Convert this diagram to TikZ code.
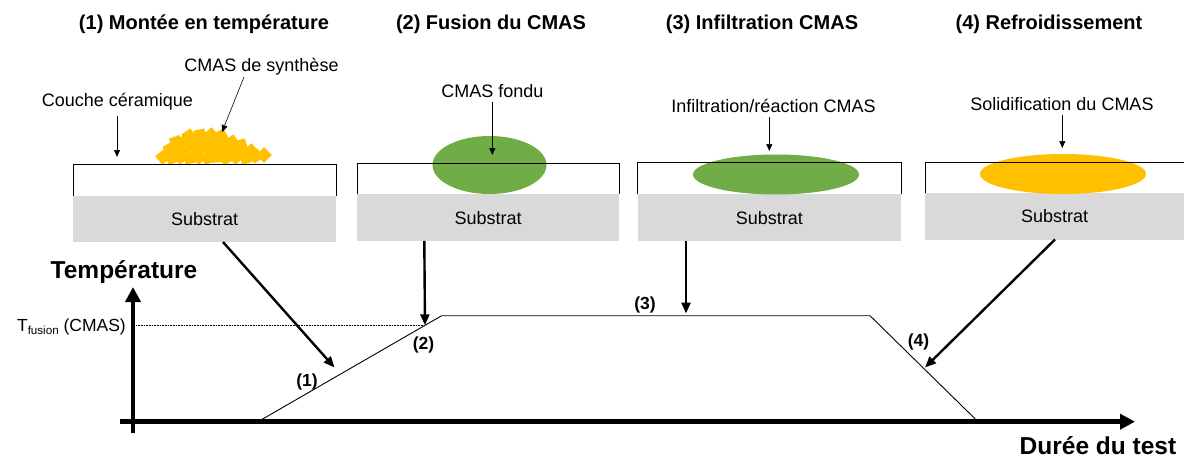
\documentclass[tikz,border=0pt]{standalone}
\usepackage{fontspec}
\setmainfont{Liberation Sans}
\usetikzlibrary{arrows.meta}
\definecolor{cmasgreen}{RGB}{112,173,71}
\definecolor{cmasorange}{RGB}{255,192,0}
\definecolor{substratgrey}{RGB}{217,217,217}
\begin{document}
\begin{tikzpicture}[x=1pt,y=-1pt,
  title/.style={font=\fontsize{20}{24}\selectfont\bfseries, inner sep=0pt},
  lbl/.style={font=\fontsize{18}{22}\selectfont, inner sep=0pt},
  axlbl/.style={font=\fontsize{24.5}{28}\selectfont\bfseries, inner sep=0pt},
  phase/.style={font=\fontsize{17.5}{20}\selectfont\bfseries, inner sep=0pt},
  layer/.style={draw=black, line width=1pt},
  subst/.style={fill=substratgrey, anchor=north west, inner sep=0pt,
    font=\fontsize{18}{22}\selectfont},
  pointer/.style={-{Triangle[length=7pt,width=6pt]}, line width=0.6pt},
  bigarrow/.style={-{Triangle[length=11pt,width=9pt]}, line width=2.4pt},
  axis/.style={-{Triangle[length=15pt,width=15pt]}, line width=4.5pt},
  profile/.style={line width=0.9pt},
  grain/.style={fill=cmasorange},
]
\useasboundingbox (0,0) rectangle (1184,460);

% ---------- titles ----------
\node[title] (t1) at (204,24) {(1) Montée en température};
\node[title] (t2) at (491,24) {(2) Fusion du CMAS};
\node[title] (t3) at (762,24) {(3) Infiltration CMAS};
\node[title] (t4) at (1049,24) {(4) Refroidissement};

% ---------- panel 1 : ceramic layer with synthetic CMAS grains ----------
\fill[white] (73,164.5) rectangle (336,196);
\node[subst, minimum width=263pt, minimum height=46pt] (sub1) at (73,196) {Substrat};
\foreach \gx/\gy/\ga in {
  163/157/40, 172/158/20, 181/157/35, 190/158/10, 199/157/45, 208/158/25,
  217/157/5, 226/158/30, 236/157/40, 246/158/15, 256/156/35, 264/155/45,
  170/149/30, 179/148/10, 188/147/45, 197/148/20, 206/147/35, 215/148/15,
  224/148/40, 233/149/10, 243/150/25, 251/151/40,
  176/142/20, 186/140/40, 195/139/15, 205/139/30, 214/139/45, 223/140/20,
  232/142/35, 241/145/15,
  189/136/35, 200/135/10, 211/135/40, 221/136/25}
  \fill[grain, shift={(\gx,\gy)}, rotate=\ga] (-5.5,-5.5) rectangle (5.5,5.5);
\draw[layer] (73,196) |- (336,164.5) -- (336,196);

\node[lbl] (lc) at (117.5,102) {Couche céramique};
\coordinate (lc-t) at (117,157);
\draw[pointer] (lc.south -| lc-t) ++(0,5) -- (lc-t);
\node[lbl] (ls) at (261.5,67) {CMAS de synthèse};
\coordinate (ls-s) at (244,77);
\coordinate (ls-t) at (222,132);
\draw[pointer] (ls-s) -- (ls-t);

% ---------- panel 2 : molten CMAS ----------
\fill[white] (357,163) rectangle (619,194);
\node[subst, minimum width=262pt, minimum height=47pt] (sub2) at (357,194) {Substrat};
\fill[cmasgreen] (489.5,165) ellipse [x radius=57pt, y radius=29pt];
\draw[layer] (357,194) |- (619,163) -- (619,194);
\node[lbl] (lf) at (492.5,91) {CMAS fondu};
\coordinate (lf-t) at (492.3,155);
\draw[pointer] (lf.south -| lf-t) ++(0,4) -- (lf-t);

% ---------- panel 3 : infiltration / reaction ----------
\fill[white] (637.5,162) rectangle (901,194);
\node[subst, minimum width=263.5pt, minimum height=47pt] (sub3) at (637.5,194) {Substrat};
\fill[cmasgreen] (776,174.5) ellipse [x radius=83pt, y radius=20pt];
\draw[layer] (637.5,194) |- (901,162) -- (901,194);
\node[lbl] (li) at (773.5,106) {Infiltration/réaction CMAS};
\coordinate (li-t) at (769.3,151);
\draw[pointer] (li.south -| li-t) ++(0,4) -- (li-t);

% ---------- panel 4 : solidification ----------
\fill[white] (925,162) rectangle (1184,193);
\node[subst, minimum width=259pt, minimum height=46.5pt] (sub4) at (925,193) {Substrat};
\fill[cmasorange] (1063,174) ellipse [x radius=83pt, y radius=20pt];
\draw[layer] (925,193) |- (1184,162);
\node[lbl] (lo) at (1062,104) {Solidification du CMAS};
\coordinate (lo-t) at (1062.3,148);
\draw[pointer] (lo.south -| lo-t) ++(0,4) -- (lo-t);

% ---------- temperature profile ----------
\coordinate (xo) at (120,421.7);
\coordinate (xe) at (1135,421.7);
\coordinate (yo) at (133,433);
\coordinate (ye) at (133,287);
\draw[axis] (xo) -- (xe);
\draw[axis] (yo) -- (ye);
\node[axlbl] (ylab) at (124,272) {Température};
\node[axlbl] (xlab) at (1098,446) {Durée du test};

\coordinate (p0) at (258,421.7);
\coordinate (p1) at (441.7,315.7);
\coordinate (p2) at (870,315.7);
\coordinate (p3) at (978,421.7);
\coordinate (pf) at (425,325.3);
\draw[profile] (p0) -- (p1) -- (p2) -- (p3);

\node[anchor=base east, inner sep=0pt, font=\fontsize{17.5}{20}\selectfont]
  (tf) at (126,331.5) {T\raisebox{-0.35ex}{\fontsize{11.6}{13}\selectfont fusion} (CMAS)};
\coordinate (tf-s) at (136,325.3);
\draw[densely dotted, line width=0.6pt] (tf-s) -- (pf);

\node[phase] (ph1) at (307,381.5) {(1)};
\node[phase] (ph2) at (423.5,345) {(2)};
\node[phase] (ph3) at (645,305) {(3)};
\node[phase] (ph4) at (918.5,341.5) {(4)};

% ---------- arrows from the panels to the profile ----------
\coordinate (a1s) at (223,242);
\coordinate (a1t) at (334.5,367.5);
\coordinate (a2s) at (424.3,241);
\coordinate (a3s) at (686,241);
\coordinate (a3t) at (686,313.5);
\coordinate (a4s) at (1055,239.5);
\coordinate (a4t) at (925,367.5);
\draw[bigarrow] (a1s) -- (a1t);
\draw[bigarrow] (a2s) -- (pf);
\draw[bigarrow] (a3s) -- (a3t);
\draw[bigarrow] (a4s) -- (a4t);
\end{tikzpicture}
\end{document}
